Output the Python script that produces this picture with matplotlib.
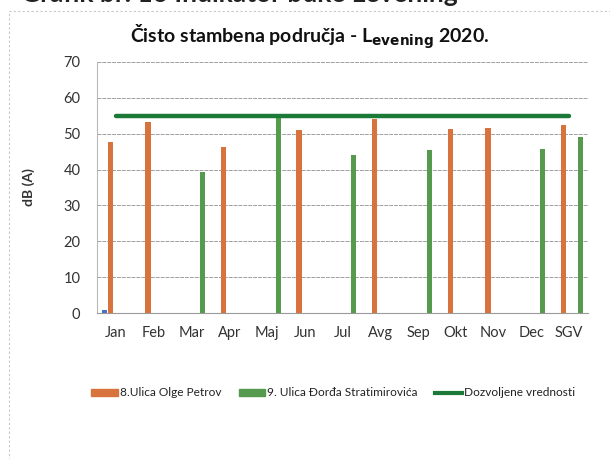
import matplotlib
matplotlib.use("Agg")
import matplotlib.pyplot as plt
from matplotlib.patches import Patch, Rectangle
from matplotlib.lines import Line2D
import numpy as np

plt.rcParams['font.family'] = ['Lato', 'DejaVu Sans']

months = ['Jan', 'Feb', 'Mar', 'Apr', 'Maj', 'Jun', 'Jul', 'Avg', 'Sep', 'Okt', 'Nov', 'Dec', 'SGV']
olge_petrov = [47.8, 53.2, 0, 46.2, 0, 51.1, 0, 54.1, 0, 51.3, 51.7, 0, 52.3]
stratimirovica = [0, 0, 39.2, 0, 54.6, 0, 44.0, 0, 45.4, 0, 0, 45.7, 49.0]
stray_blue = [0.8, 0, 0, 0, 0, 0, 0, 0, 0, 0, 0, 0, 0]
limit = [55] * 13

c_orange = '#d8733d'
c_green = '#559a4d'
c_line = '#1b7a38'
c_blue = '#4472c4'

fig = plt.figure(figsize=(6.1, 4.59), dpi=100)
fig.patch.set_facecolor('white')

# frame of the pasted chart
fig.add_artist(Rectangle((0.014, -0.05), 1.0, 1.027, transform=fig.transFigure,
                         fill=False, edgecolor='#c8c8c8', linewidth=0.8, linestyle=(0, (2, 2))))
# caption above the chart, cut off by the crop
fig.text(0.035, 0.995, 'Grafik br. 16 Indikator buke Levening', fontsize=19,
         fontweight='bold', color='#222222', va='baseline', ha='left')

ax = fig.add_axes([0.159, 0.318, 0.805, 0.547])
x = np.arange(len(months))
w = 0.14
ax.bar(x - 0.30, stray_blue, w, color=c_blue, zorder=3)
ax.bar(x - 0.15, olge_petrov, w, color=c_orange, zorder=3)
ax.bar(x + 0.30, stratimirovica, w, color=c_green, zorder=3)
ax.plot(x, limit, color=c_line, linewidth=3.2, solid_capstyle='round', zorder=4)

ax.set_xlim(-0.5, len(months) - 0.5)
ax.set_ylim(0, 70)
ax.set_yticks(range(0, 71, 10))
ax.set_xticks(x)
ax.set_xticklabels(months)
ax.tick_params(length=0, labelsize=10.5, colors='#333333', pad=9)
ax.tick_params(axis='y', pad=12)
ax.yaxis.grid(True, color='#a0a0a0', linewidth=0.7, linestyle=(0, (4, 1)))
ax.set_axisbelow(True)
for s in ['top', 'right']:
    ax.spines[s].set_visible(False)
ax.spines['left'].set_color('#b8b8b8')
ax.spines['bottom'].set_color('#9a9a9a')
ax.set_ylabel('dB (A)', fontsize=10, fontweight='bold', color='#333333', labelpad=20)

fig.text(0.508, 0.919, r'Čisto stambena područja - L$_{\mathbf{evening}}$ 2020.', ha='center',
         va='center', fontsize=14, fontweight='bold', color='#111111')

handles = [Patch(color=c_orange), Patch(color=c_green),
           Line2D([0], [0], color=c_line, linewidth=3)]
labels = ['8.Ulica Olge Petrov', '9. Ulica Đorđa Stratimirovića', 'Dozvoljene vrednosti']
fig.legend(handles, labels, loc='center', bbox_to_anchor=(0.546, 0.144), ncol=3,
           frameon=False, fontsize=8.6, handlelength=2.2, handleheight=0.5,
           handletextpad=0.15, columnspacing=1.5, labelcolor='#222222')

fig.savefig('out.png', dpi=100, facecolor='white')
